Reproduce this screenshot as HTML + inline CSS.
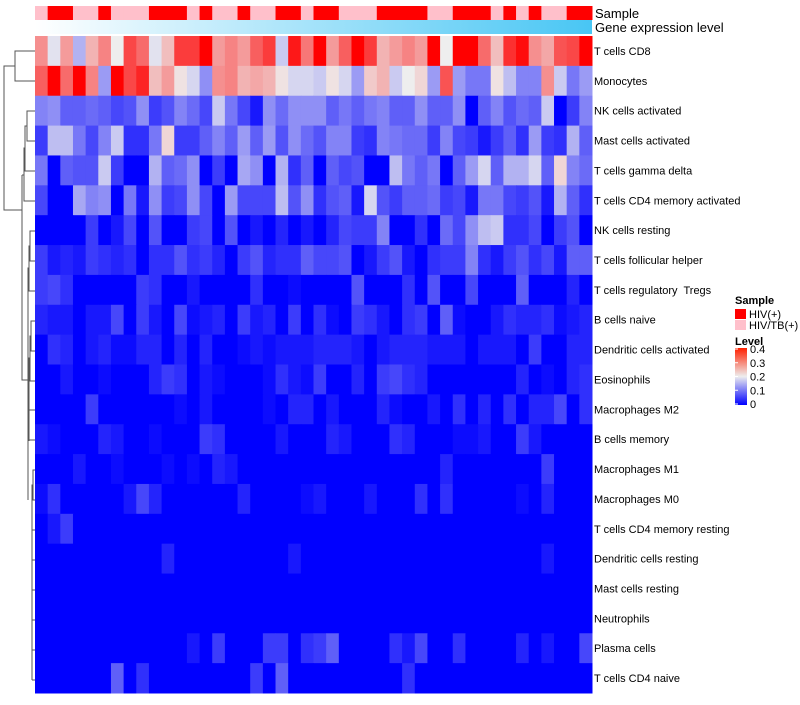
<!DOCTYPE html>
<html><head><meta charset="utf-8"><style>
body{margin:0;background:#fff;width:800px;height:700px;overflow:hidden;font-family:"Liberation Sans",sans-serif}
svg text{font-family:"Liberation Sans",sans-serif;white-space:pre}
</style></head><body>
<svg id="chart" width="800" height="700" xmlns="http://www.w3.org/2000/svg">
<defs>
<linearGradient id="geneGrad" x1="0" x2="1" y1="0" y2="0"><stop offset="0" stop-color="#ffffff"/><stop offset="1" stop-color="#48c6f4"/></linearGradient>
<linearGradient id="levelGrad" x1="0" x2="0" y1="1" y2="0"><stop offset="0" stop-color="#0000ff"/><stop offset="0.5" stop-color="#eeeeee"/><stop offset="1" stop-color="#ff2000"/></linearGradient>
</defs>
<g id="cells"></g>
<g id="sampleBar"></g>
<rect x="35" y="20" width="557" height="14" fill="url(#geneGrad)"/>
<text x="595" y="18" font-size="13">Sample</text>
<text x="595" y="32" font-size="13">Gene expression level</text>
<g id="rowLabels"></g>
<g stroke="#555" stroke-width="1" fill="none">
<path d="M35,51 H15 V81 H35"/>
<path d="M15,66 H4 V210 H22"/>
<path d="M35,111 H27 V141 H35 M27,126 H25 V171 H35 M25,148 H24 V201 H35 M24,175 H22"/>
<path d="M22,175 V380 H28"/>
<path d="M35,231 H30 V261 H35 M30,246 H29 V291 H35 M29,268 H28 V380"/>
<path d="M28,380 V500 M28,440 H35"/>
<path d="M35,321 H31 V351 H35 M31,336 H30 V381 H35 M30,358 H29 V441 M29,410 H35"/>
<path d="M35,470 H33 V500 H35 M33,485 H32 V560 H35 M32,530 H35 M32,590 H35 M32,560 V680 M32,620 H35 M32,650 H35 M32,680 H35"/>
</g>
<g>
<text x="735" y="304" font-size="11" font-weight="bold">Sample</text>
<rect x="735" y="309" width="11" height="10" fill="#ff0000"/>
<text x="749" y="318" font-size="11">HIV(+)</text>
<rect x="735" y="320" width="11" height="10" fill="#ffc0cb"/>
<text x="749" y="329" font-size="11">HIV/TB(+)</text>
<text x="735" y="345" font-size="11" font-weight="bold">Level</text>
<rect x="735" y="348" width="12" height="57" fill="url(#levelGrad)"/>
<g id="levelTicks"></g>
</g>
</svg>
<script>
const rowNames=["T cells CD8","Monocytes","NK cells activated","Mast cells activated","T cells gamma delta","T cells CD4 memory activated","NK cells resting","T cells follicular helper","T cells regulatory  Tregs","B cells naive","Dendritic cells activated","Eosinophils","Macrophages M2","B cells memory","Macrophages M1","Macrophages M0","T cells CD4 memory resting","Dendritic cells resting","Mast cells resting","Neutrophils","Plasma cells","T cells CD4 naive"];
const sampleGroups=[0,1,1,0,0,1,0,0,0,1,1,1,0,1,0,0,1,0,0,1,1,0,1,1,0,0,0,1,1,1,1,0,0,1,1,1,0,1,0,1,0,0,1,1];
const levelTickLabels=["0","0.1","0.2","0.3","0.4"];
const levelTickValues=[0,0.1,0.2,0.3,0.4];
const rCD8=[.28,.19,.27,.15,.25,.29,.2,.34,.31,.19,.24,.35,.35,.4,.27,.29,.27,.32,.35,.17,.38,.3,.4,.27,.32,.4,.35,.25,.27,.29,.27,.4,.2,.4,.4,.31,.24,.36,.39,.28,.26,.33,.34,.4];
const rMono=[.32,.4,.31,.4,.29,.13,.4,.34,.37,.24,.27,.21,.18,.12,.28,.29,.25,.26,.25,.21,.18,.18,.17,.21,.18,.13,.23,.25,.17,.2,.22,.13,.33,.13,.1,.1,.21,.16,.11,.11,.28,.17,.1,.13];
const rNKa=[.11,.12,.08,.08,.09,.08,.06,.07,.12,.05,.07,.11,.09,.06,.17,.1,.06,.02,.12,.09,.12,.12,.12,.08,.1,.08,.1,.11,.08,.08,.12,.08,.08,.12,0,.08,.11,.07,.09,.08,.17,0,.05,.11];
const rMastA=[.05,.16,.16,.1,.06,.11,.17,.04,.04,.1,.22,.05,.05,.08,.11,.08,.13,.08,.13,.07,.12,.09,.07,.11,.11,.05,.04,.11,.1,.09,.09,.05,.11,.06,.05,.02,.05,.08,.04,.13,.05,.04,.15,.08];
const rGD=[.1,0,.08,.07,.07,.17,.05,0,0,.15,.08,.09,.12,0,.05,0,.14,.12,0,.15,.04,.08,0,.08,.06,.07,0,0,.16,.1,.08,.1,0,.08,.13,.18,.08,.15,.15,.18,.08,.22,.11,.09];
const rCD4ma=[.06,0,0,.14,.11,.12,0,.1,.02,.12,.05,.06,.12,.06,0,.13,.06,.06,.06,.16,.07,.12,.04,.07,.08,.02,.18,.07,.05,.08,.08,.09,.05,.06,.02,.1,.1,.06,.05,.07,.02,.15,.08,.04];
const rNKr=[0,0,0,0,.05,0,.02,.06,0,.07,0,0,.05,.06,0,.07,0,.02,0,.03,0,.02,0,.03,.06,.05,.05,.11,0,0,.04,0,.09,.06,.12,.16,.17,.04,.04,.06,0,.05,.07,0];
const rTfh=[.05,.02,.03,.02,.05,.04,.03,.04,0,.04,.04,.07,.04,.05,.03,0,.05,.07,.03,.04,.04,.08,.06,.06,.07,0,.02,.05,.07,.02,0,.04,.05,.05,.11,.04,.02,.05,.07,.04,.06,.02,.08,.08];
const rTreg=[.05,.06,.04,0,0,0,0,0,.05,.04,0,0,.02,0,0,0,0,.04,0,0,.01,0,0,0,0,.07,0,0,0,.04,0,.07,0,0,.06,0,0,0,.08,0,0,0,.03,0];
const rBn=[.03,.02,.02,0,.02,.02,.06,0,.05,.02,0,.06,.01,.02,.03,0,.05,.02,.03,0,.05,0,.04,.01,0,.05,.04,.02,0,.04,.05,0,.08,.01,0,0,.02,.04,.03,.03,.04,.01,.02,.03];
const rDCa=[0,.04,.03,0,.02,.03,.01,.01,.03,.03,0,.03,0,.03,0,0,.01,.02,.01,.02,.02,.02,.03,.03,.03,.02,0,.02,.03,.03,.03,.02,.02,.02,0,.02,.02,.02,0,.05,0,0,.03,.03];
const rEos=[0,0,.02,0,0,.01,0,0,0,.03,.05,.04,0,.02,.01,0,0,0,.01,.04,.02,.01,.05,0,0,.03,0,.05,.06,.04,.03,0,0,0,0,0,0,0,.03,0,.01,0,.03,.04];
const rM2=[0,0,0,0,.05,0,0,0,0,0,0,.01,0,.02,0,0,0,0,.01,0,.03,.03,0,.02,0,0,0,.03,.01,0,0,.02,0,.04,0,.03,0,.04,0,.03,.03,.06,0,.04];
const rBm=[.02,.01,0,0,0,.03,.02,0,0,.01,0,0,0,.05,.04,0,0,0,0,.02,0,0,0,.03,.02,0,0,0,.04,.03,0,0,0,.01,.01,.02,0,0,.05,.02,0,0,0,0];
const rM1=[0,0,0,.02,0,0,.01,0,0,0,.01,0,.01,0,.03,.02,0,0,0,0,0,0,0,0,0,0,0,0,0,0,0,0,.03,0,0,0,0,0,0,0,.05,0,0,0];
const rM0=[.01,.04,0,0,0,0,0,.02,.06,.03,0,0,0,0,0,0,.03,0,0,0,0,.01,.02,0,0,0,.02,0,0,0,.04,0,.04,0,0,0,0,0,.01,0,.03,0,0,0];
const rCD4r=[0,.02,.05,0,0,0,0,0,0,0,0,0,0,0,0,0,0,0,0,0,0,0,0,0,0,0,0,0,0,0,0,0,0,0,0,0,0,0,0,0,0,0,0,0];
const rDCr=[0,0,0,0,0,0,0,0,0,0,.03,0,0,0,0,0,0,0,0,0,.02,0,0,0,0,0,0,0,0,0,0,0,0,0,0,0,0,0,0,0,.02,0,0,0];
const rMastR=[0,0,0,0,0,0,0,0,0,0,0,0,0,0,0,0,0,0,0,0,0,0,0,0,0,0,0,0,0,0,0,0,0,0,0,0,0,0,0,0,0,0,0,0];
const rNeut=[0,0,0,0,0,0,0,0,0,0,0,0,0,0,0,0,0,0,0,0,0,0,0,0,0,0,0,0,0,0,0,0,0,0,0,0,0,0,0,0,0,0,0,0];
const rPlasma=[0,0,0,0,0,0,0,0,0,0,0,0,.02,0,.05,0,0,0,.05,.05,0,.04,.05,.08,0,0,0,0,.04,.02,.06,0,0,.04,0,0,0,0,.03,0,.02,0,0,.06];
const rCD4n=[0,0,0,0,0,0,.08,0,.04,0,0,0,0,0,0,0,0,.05,0,.08,0,0,0,0,0,0,0,0,0,.04,0,0,0,0,0,0,0,0,0,0,0,0,0,0];
const matrix=[rCD8,rMono,rNKa,rMastA,rGD,rCD4ma,rNKr,rTfh,rTreg,rBn,rDCa,rEos,rM2,rBm,rM1,rM0,rCD4r,rDCr,rMastR,rNeut,rPlasma,rCD4n];

const NS="http://www.w3.org/2000/svg";
const X0=35,X1=592,Y0=36,Y1=693;
const nCols=sampleGroups.length,nRows=rowNames.length;
const cw=(X1-X0)/nCols,rh=(Y1-Y0)/nRows;
const xPos=i=>X0+i*cw, yPos=j=>Y0+j*rh;
function lerp(a,b,t){return Math.round(a+(b-a)*t);}
function color(v){
  v=Math.max(0,Math.min(0.4,v));
  if(v<=0.2){const t=v/0.2;return `rgb(${lerp(0,238,t)},${lerp(0,238,t)},${lerp(255,238,t)})`;}
  const t=(v-0.2)/0.2;return `rgb(${lerp(238,255,t)},${lerp(238,0,t)},${lerp(238,0,t)})`;
}
const cells=document.getElementById('cells');
matrix.forEach((row,j)=>row.forEach((v,i)=>{
  const r=document.createElementNS(NS,'rect');
  
  
  r.setAttribute('x',xPos(i));r.setAttribute('y',yPos(j));
  r.setAttribute('width',cw+0.5);r.setAttribute('height',rh+0.5);
  r.setAttribute('fill',color(v));cells.appendChild(r);
}));
const sb=document.getElementById('sampleBar');
sampleGroups.forEach((g,i)=>{
  const r=document.createElementNS(NS,'rect');
  
  
  r.setAttribute('x',xPos(i));r.setAttribute('y',6);
  r.setAttribute('width',cw+0.5);r.setAttribute('height',14);
  r.setAttribute('fill',g?'#ff0000':'#ffc0cb');sb.appendChild(r);
});
const rl=document.getElementById('rowLabels');
rowNames.forEach((n,j)=>{
  const t=document.createElementNS(NS,'text');
  
  
  t.setAttribute('x',594);t.setAttribute('y',yPos(j)+rh/2+4);
  t.setAttribute('font-size','11');t.textContent=n;rl.appendChild(t);
});
const lt=document.getElementById('levelTicks');
levelTickValues.forEach((v,k)=>{
  const y=404-v/0.4*55;
  const t=document.createElementNS(NS,'text');
  
  
  t.setAttribute('x',750);t.setAttribute('y',y+4);
  t.setAttribute('font-size','11');t.textContent=levelTickLabels[k];lt.appendChild(t);
  const l=document.createElementNS(NS,'line');
  
  
  l.setAttribute('x1',735);l.setAttribute('x2',738);l.setAttribute('y1',y);l.setAttribute('y2',y);
  l.setAttribute('stroke','#fff');lt.appendChild(l);
});
</script>
</body></html>
